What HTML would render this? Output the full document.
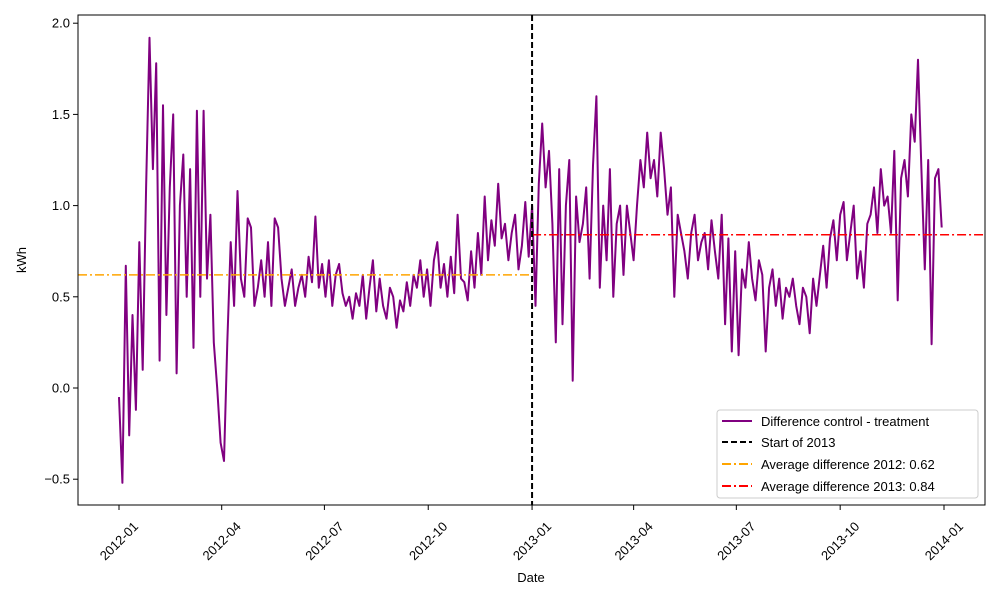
<!DOCTYPE html>
<html><head><meta charset="utf-8"><style>
body{margin:0;background:#fff}
svg text{font-family:"Liberation Sans",sans-serif;font-size:13px;fill:#000}
</style></head><body>
<svg id="chart" width="1000" height="600" xmlns="http://www.w3.org/2000/svg">
<rect width="1000" height="600" fill="#fff"/>
<g id="plot"></g>
<rect x="78" y="15" width="907" height="490" fill="none" stroke="#000" stroke-width="1"/>
<text transform="translate(26,260) rotate(-90)" text-anchor="middle">kWh</text>
<text x="531" y="582" text-anchor="middle">Date</text>
<g>
<rect x="717" y="410" width="261" height="88" fill="#fff" fill-opacity="0.8" stroke="#ccc" rx="3"/>
<line x1="722" y1="421" x2="752" y2="421" stroke="purple" stroke-width="2"/>
<text x="761" y="426">Difference control - treatment</text>
<line x1="722" y1="442" x2="752" y2="442" stroke="#000" stroke-width="2" stroke-dasharray="6,3"/>
<text x="761" y="447">Start of 2013</text>
<line x1="722" y1="464" x2="752" y2="464" stroke="orange" stroke-width="2" stroke-dasharray="9,3,2,3"/>
<text x="761" y="469">Average difference 2012: 0.62</text>
<line x1="722" y1="486" x2="752" y2="486" stroke="red" stroke-width="2" stroke-dasharray="9,3,2,3"/>
<text x="761" y="491">Average difference 2013: 0.84</text>
</g>
</svg>
<script>
const stepDays = 3;
const values2012 = [-0.05,-0.52,0.67,-0.26,0.4,-0.12,0.8,0.1,1.1,1.92,
1.2,1.78,0.15,1.55,0.4,1.1,1.5,0.08,1.0,1.28,
0.5,1.2,0.22,1.52,0.5,1.52,0.6,0.95,0.25,0.0,
-0.3,-0.4,0.25,0.8,0.45,1.08,0.6,0.5,0.93,0.88,0.45,
0.55,0.7,0.5,0.8,0.45,0.93,0.88,0.6,0.45,0.55,
0.65,0.45,0.55,0.62,0.5,0.72,0.58,0.94,0.55,0.68,
0.5,0.7,0.45,0.62,0.68,0.52,0.45,0.5,0.38,0.52,
0.45,0.62,0.38,0.55,0.7,0.42,0.6,0.45,0.38,0.55,0.5,
0.33,0.48,0.42,0.58,0.45,0.62,0.55,0.7,0.5,0.65,
0.45,0.7,0.8,0.55,0.68,0.5,0.72,0.52,0.95,0.6,
0.58,0.48,0.75,0.55,0.85,0.62,1.05,0.7,0.92,0.78,
1.12,0.82,0.9,0.7,0.85,0.95,0.65,0.78,1.02,0.72];
const values2013 = [1.0,0.45,1.12,1.45,1.1,1.3,0.9,0.25,1.2,0.35,1.0,
1.25,0.04,1.05,0.8,0.9,1.1,0.6,1.22,1.6,
0.55,1.0,0.7,1.2,0.5,0.9,1.0,0.62,1.0,0.85,0.7,
1.0,1.25,1.1,1.4,1.15,1.25,1.05,1.4,1.2,0.95,
1.1,0.5,0.95,0.85,0.75,0.6,0.85,0.95,0.7,0.8,
0.85,0.65,0.92,0.75,0.6,0.95,0.35,0.82,0.2,0.75,
0.18,0.65,0.55,0.8,0.6,0.48,0.7,0.62,0.2,0.55,
0.65,0.45,0.6,0.38,0.55,0.5,0.6,0.45,0.35,0.55,0.5,
0.3,0.6,0.45,0.62,0.78,0.55,0.82,0.92,0.7,0.95,
1.02,0.7,0.85,1.0,0.6,0.75,0.55,0.9,0.95,1.1,
0.85,1.2,1.0,1.05,0.85,1.3,0.48,1.15,1.25,1.05,
1.5,1.35,1.8,1.2,0.65,1.25,0.24,1.15,1.2,0.88];
const avg2012 = 0.62;
const avg2013 = 0.84;
const start2013Day = 366;
const yTicks = [-0.5,0,0.5,1.0,1.5,2.0];
const xTickDays = [0,91,182,274,366,456,547,639,731];
const xTickLabels = ["2012-01","2012-04","2012-07","2012-10","2013-01","2013-04","2013-07","2013-10","2014-01"];

const xS = d => 119 + d*825/731;
const yS = v => 388 - v*182.4;
const NS = "http://www.w3.org/2000/svg";
const g = document.getElementById('plot');
function mk(tag, attrs){const e=document.createElementNS(NS,tag);for(const k in attrs)e.setAttribute(k,attrs[k]);g.appendChild(e);return e;}

yTicks.forEach(t=>{
  const l=mk('line',{x1:73,x2:78,y1:yS(t),y2:yS(t),stroke:'#000'});
  
  
  const tx=mk('text',{x:70,y:yS(t)+4.5,'text-anchor':'end'});
  tx.textContent=(t<0?'\u2212':'')+Math.abs(t).toFixed(1);
  
  
});
xTickDays.forEach((d,i)=>{
  const x=xS(d);
  const l=mk('line',{x1:x,x2:x,y1:505,y2:510,stroke:'#000'});
  
  
  const tx=mk('text',{transform:`translate(${x},${541}) rotate(-45)`,'text-anchor':'middle',dy:'4.5'});
  tx.textContent=xTickLabels[i];
  
  
});

const all = values2012.concat(values2013);
const pts = all.map((v,i)=>xS(i*stepDays).toFixed(1)+','+yS(v).toFixed(1)).join(' ');
const line = mk('polyline',{points:pts,fill:'none',stroke:'purple','stroke-width':2,'stroke-linejoin':'round'});



const a1 = mk('line',{x1:78,x2:xS(start2013Day),y1:yS(avg2012),y2:yS(avg2012),stroke:'orange','stroke-width':1.5,'stroke-dasharray':'9,3,2,3'});


const a2 = mk('line',{x1:xS(start2013Day),x2:985,y1:yS(avg2013),y2:yS(avg2013),stroke:'red','stroke-width':1.5,'stroke-dasharray':'9,3,2,3'});


const v = mk('line',{x1:xS(start2013Day),x2:xS(start2013Day),y1:15,y2:505,stroke:'#000','stroke-width':2,'stroke-dasharray':'6,3'});


</script>
</body></html>
